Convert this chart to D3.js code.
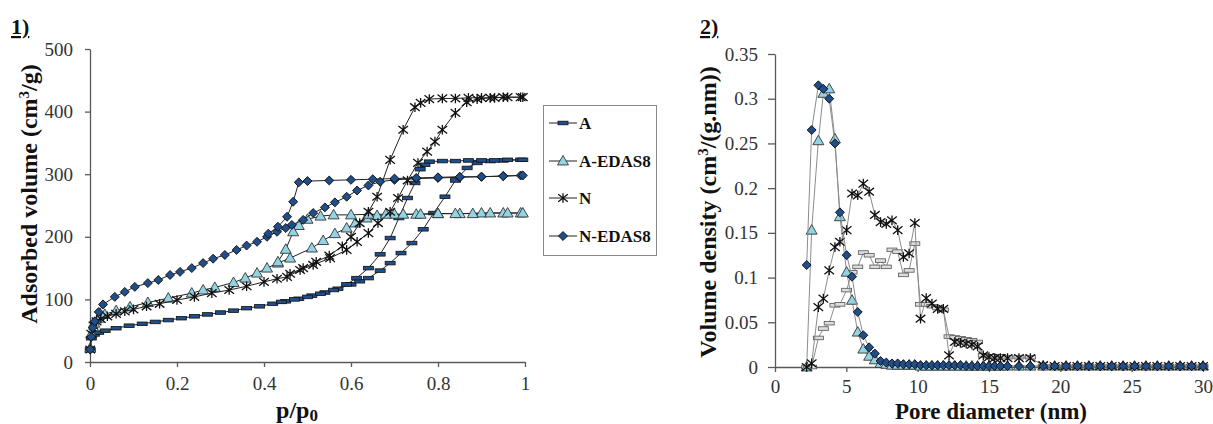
<!DOCTYPE html>
<html>
<head>
<meta charset="utf-8">
<script src="https://cdn.jsdelivr.net/npm/d3@7"></script>
<style>
  body { margin: 0; background: #fff; }
  svg { display: block; }
  svg text { font-family: "Liberation Serif", "Times New Roman", Times, serif !important; }
  .axis path, .axis line { stroke: #595959; stroke-width: 1.3; }
</style>
</head>
<body>
<svg width="1213" height="424"></svg>
<script>
// ---- data: nitrogen isotherms (p/p0, cm3/g) ----
var seriesNames = ["A", "A-EDAS8", "N", "N-EDAS8"];

var A_ads = [[0.0005,20],[0.003,38],[0.01,44],[0.02,47],[0.035,50],[0.06,54],[0.09,58],[0.12,61],[0.15,64],[0.18,67],[0.21,70],[0.24,73],[0.27,76],[0.3,79],[0.33,82],[0.36,86],[0.39,89],[0.42,93],[0.45,97],[0.48,101],[0.51,106],[0.54,111],[0.57,117],[0.6,124],[0.62,129],[0.64,134],[0.667,146],[0.69,158],[0.715,174],[0.74,190],[0.766,212],[0.79,238],[0.816,264],[0.84,290],[0.867,310],[0.89,318],[0.92,321],[0.95,322],[0.99,323]];
var A_des = [[0.995,323],[0.96,323],[0.93,322],[0.9,322],[0.87,322],[0.84,321],[0.81,321],[0.78,320],[0.77,315],[0.759,308],[0.747,286],[0.73,262],[0.71,230],[0.69,198],[0.667,172],[0.64,150],[0.613,134],[0.59,124],[0.56,115],[0.53,109],[0.5,104],[0.47,100],[0.44,96]];

var AE_ads = [[0.0005,22],[0.003,45],[0.01,62],[0.02,70],[0.034,76],[0.06,82],[0.092,88],[0.133,95],[0.18,102],[0.234,110],[0.26,115],[0.287,119],[0.33,127],[0.357,134],[0.384,142],[0.407,150],[0.432,158],[0.46,166],[0.51,182],[0.536,194],[0.563,205],[0.59,214],[0.61,222],[0.636,230],[0.66,234],[0.7,236],[0.75,236],[0.8,237],[0.85,237],[0.9,238],[0.95,238],[0.99,238]];
var AE_des = [[0.995,238],[0.96,238],[0.92,238],[0.88,237],[0.84,237],[0.8,237],[0.76,236],[0.72,236],[0.68,236],[0.64,236],[0.6,235],[0.56,235],[0.53,233],[0.5,228],[0.48,218],[0.467,208],[0.45,180],[0.432,160]];

var N_ads = [[0.0005,20],[0.003,45],[0.008,58],[0.015,65],[0.025,69],[0.04,73],[0.06,77],[0.08,81],[0.1,84],[0.13,89],[0.16,93],[0.2,99],[0.24,104],[0.28,110],[0.32,115],[0.36,121],[0.4,128],[0.43,133],[0.453,136],[0.483,147],[0.513,155],[0.552,166],[0.59,179],[0.614,192],[0.64,206],[0.662,222],[0.69,240],[0.708,262],[0.73,290],[0.754,318],[0.775,336],[0.793,352],[0.81,371],[0.84,398],[0.866,415],[0.89,420],[0.92,422],[0.95,423],[0.99,423]];
var N_des = [[0.995,423],[0.96,423],[0.93,422],[0.9,422],[0.87,422],[0.84,421],[0.81,421],[0.78,420],[0.76,414],[0.747,407],[0.72,371],[0.69,323],[0.66,264],[0.64,240],[0.62,222],[0.6,200],[0.58,185],[0.55,170],[0.52,160],[0.49,150],[0.46,141]];

var NE_ads = [[0.0005,20],[0.003,40],[0.006,55],[0.011,65],[0.02,80],[0.03,92],[0.057,104],[0.08,112],[0.103,120],[0.133,126],[0.157,131],[0.184,139],[0.207,144],[0.234,150],[0.26,158],[0.283,165],[0.31,171],[0.337,179],[0.36,186],[0.384,192],[0.407,200],[0.43,208],[0.45,214],[0.464,219],[0.49,227],[0.513,238],[0.54,247],[0.563,255],[0.59,264],[0.614,274],[0.64,282],[0.667,288],[0.7,291],[0.75,293],[0.8,294],[0.85,295],[0.9,296],[0.95,297],[0.99,298]];
var NE_des = [[0.995,298],[0.95,297],[0.9,296],[0.85,296],[0.8,295],[0.75,294],[0.7,293],[0.65,292],[0.6,291],[0.55,290],[0.5,289],[0.48,287],[0.467,256],[0.453,232],[0.432,216],[0.41,205]];

// ---- data: pore size distribution (nm, cm3/(g.nm)) ----
var poreD = [2.22,2.57,3.04,3.39,3.8,4.2,4.55,5.02,5.4,5.8,6.19,6.6,7.0,7.4,7.8,8.2,8.6,9.0,9.4,9.8,10.2,10.6,11.0,11.4,11.8,12.2,12.6,13.0,13.4,13.8,14.2,14.6,15.0,15.4,15.8,16.3,17.1,17.9,18.8,19.6,20.4,21.2,22.0,22.8,23.6,24.4,25.2,26.0,26.8,27.6,28.4,29.2,30.0];
var psd_A  = [0,0,0.0325,0.043,0.049,0.069,0.070,0.086,0.106,0.112,0.128,0.125,0.112,0.119,0.112,0.131,0.129,0.103,0.108,0.138,0.070,0.070,0.068,0.066,0.064,0.034,0.033,0.032,0.031,0.030,0.028,0.013,0.012,0.012,0.012,0.011,0.011,0.011,0.001,0.001,0.001,0.001,0.001,0.001,0.001,0.001,0.001,0.001,0.001,0.001,0.001,0.001,0.001];
var psd_AE = [0,0.153,0.253,0.306,0.311,0.255,0.168,0.106,0.0746,0.039,0.020,0.012,0.008,0.004,0.003,0.002,0.002,0.002,0.002,0.002,0.001,0.001,0.001,0.001,0.001,0.001,0.001,0.001,0.001,0.001,0.001,0.001,0.001,0.001,0.001,0.001,0.001,0.001,0.001,0.001,0.001,0.001,0.001,0.001,0.001,0.001,0.001,0.001,0.001,0.001,0.001,0.001,0.001];
var psd_N  = [0,0.004,0.067,0.0765,0.108,0.134,0.140,0.153,0.194,0.192,0.205,0.196,0.170,0.162,0.160,0.164,0.153,0.123,0.127,0.161,0.054,0.077,0.071,0.065,0.065,0.013,0.028,0.027,0.026,0.025,0.023,0.013,0.011,0.010,0.010,0.010,0.010,0.010,0.002,0.001,0.001,0.001,0.001,0.001,0.001,0.001,0.001,0.001,0.001,0.001,0.001,0.001,0.001];
var psd_NE = [0.114,0.265,0.315,0.311,0.300,0.250,0.173,0.125,0.101,0.0615,0.0355,0.022,0.015,0.0067,0.005,0.004,0.004,0.003,0.003,0.003,0.002,0.002,0.002,0.002,0.002,0.002,0.002,0.002,0.001,0.001,0.001,0.001,0.001,0.001,0.001,0.001,0.001,0.001,0.001,0.001,0.001,0.001,0.001,0.001,0.001,0.001,0.001,0.001,0.001,0.001,0.001,0.001,0.001];

var isoXTicks = [0, 0.2, 0.4, 0.6, 0.8, 1];
var isoYTicks = [0, 100, 200, 300, 400, 500];
var psdXTicks = [0, 5, 10, 15, 20, 25, 30];
var psdYTicks = [0, 0.05, 0.1, 0.15, 0.2, 0.25, 0.3, 0.35];

var svg = d3.select("svg");

var darkBlue = "#1f4e8a", lightBlue = "#93d4e4";

// marker drawing
function marker(g, kind, cx, cy, panel) {
  var m = g.append("g").attr("transform", "translate(" + cx + "," + cy + ")");
  if (kind == "A") {
    m.append("rect").attr("x", -5).attr("y", -1.8).attr("width", 10).attr("height", 3.6)
      .attr("fill", panel == 2 ? "#dcdcdc" : darkBlue)
      .attr("stroke", panel == 2 ? "#555" : "#111").attr("stroke-width", 0.8);
  } else if (kind == "A-EDAS8") {
    m.append("path").attr("d", d3.symbol(d3.symbolTriangle, 52)())
      .attr("transform", "translate(0,0.8)")
      .attr("fill", lightBlue).attr("stroke", "#333").attr("stroke-width", 0.9);
  } else if (kind == "N") {
    var r = 4.8;
    m.append("path")
      .attr("d", "M0," + (-r) + "L0," + r +
                 "M" + (-r) + "," + (-r * 0.8) + "L" + r + "," + (r * 0.8) +
                 "M" + (-r) + "," + (r * 0.8) + "L" + r + "," + (-r * 0.8))
      .attr("stroke", "#111").attr("stroke-width", 1.3).attr("fill", "none");
  } else {
    m.append("path").attr("d", d3.symbol(d3.symbolSquare, 40)())
      .attr("transform", "rotate(45)")
      .attr("fill", darkBlue).attr("stroke", "#111").attr("stroke-width", 0.9);
  }
}

function fmt(d) { return String(d); }

function styleAxis(g) {
  g.attr("font-size", 19);
  g.selectAll("text").attr("fill", "#333");
}

function title(x, y, rot, size) {
  return svg.append("text")
    .attr("transform", "translate(" + x + "," + y + ")" + (rot ? " rotate(-90)" : ""))
    .attr("text-anchor", "middle").attr("font-weight", "bold")
    .attr("font-size", size).attr("fill", "#111");
}

// ================= Panel 1: isotherms =================
var x1 = d3.scaleLinear().domain([0, 1]).range([90, 525]);
var y1 = d3.scaleLinear().domain([0, 500]).range([362, 49]);

svg.append("g").attr("class", "axis")
  .attr("transform", "translate(0," + y1(0) + ")")
  .call(d3.axisBottom(x1).tickValues(isoXTicks).tickFormat(fmt).tickSize(5).tickSizeOuter(0).tickPadding(10))
  .call(styleAxis);
svg.append("g").attr("class", "axis")
  .attr("transform", "translate(" + x1(0) + ",0)")
  .call(d3.axisLeft(y1).tickValues(isoYTicks).tickFormat(fmt).tickSize(5).tickSizeOuter(0).tickPadding(12))
  .call(styleAxis);

var isoSets = [
  {name: "A", branches: [A_ads, A_des]},
  {name: "A-EDAS8", branches: [AE_ads, AE_des]},
  {name: "N", branches: [N_ads, N_des]},
  {name: "N-EDAS8", branches: [NE_ads, NE_des]}
];

var line1 = d3.line().x(function(d) { return x1(d[0]); }).y(function(d) { return y1(d[1]); });
var p1 = svg.append("g");
isoSets.forEach(function(s) {
  var g = p1.append("g");
  s.branches.forEach(function(b) {
    g.append("path").attr("d", line1(b)).attr("fill", "none").attr("stroke", "#222").attr("stroke-width", 1);
  });
  s.branches.forEach(function(b) {
    b.forEach(function(d) { marker(g, s.name, x1(d[0]), y1(d[1]), 1); });
  });
});

var t1 = title(37, 194, true, 24).text("Adsorbed volume (cm");
t1.append("tspan").attr("baseline-shift", "super").attr("font-size", "15px").text("3");
t1.append("tspan").text("/g)");

var pt = title(297, 418, false, 24).text("p/p");
pt.append("tspan").attr("font-size", "17px").attr("dy", 3).text("0");

svg.append("text").attr("x", 11).attr("y", 34).attr("font-weight", "bold").attr("font-size", 22)
  .attr("text-decoration", "underline").attr("fill", "#111").text("1)");

// legend
var leg = svg.append("g");
leg.append("rect").attr("x", 543.5).attr("y", 105.5).attr("width", 113).attr("height", 150)
  .attr("fill", "#fff").attr("stroke", "#8a8a8a").attr("stroke-width", 1);
var legY = [123, 161, 198, 236];
seriesNames.forEach(function(n, i) {
  leg.append("line").attr("x1", 549).attr("x2", 577).attr("y1", legY[i]).attr("y2", legY[i])
    .attr("stroke", "#222").attr("stroke-width", 1);
  marker(leg, n, 563, legY[i], 1);
  leg.append("text").attr("x", 579).attr("y", legY[i] + 6).attr("font-weight", "bold")
    .attr("font-size", 17).attr("fill", "#111").text(n);
});

// ================= Panel 2: pore size distribution =================
var x2 = d3.scaleLinear().domain([0, 30]).range([775, 1203]);
var y2 = d3.scaleLinear().domain([0, 0.35]).range([367, 54]);

svg.append("g").attr("class", "axis")
  .attr("transform", "translate(0," + y2(0) + ")")
  .call(d3.axisBottom(x2).tickValues(psdXTicks).tickFormat(fmt).tickSize(5).tickSizeOuter(0).tickPadding(8))
  .call(styleAxis);
svg.append("g").attr("class", "axis")
  .attr("transform", "translate(" + x2(0) + ",0)")
  .call(d3.axisLeft(y2).tickValues(psdYTicks).tickFormat(fmt).tickSize(7).tickSizeOuter(0).tickPadding(10))
  .call(styleAxis);

var psdSets = [
  {name: "A", vals: psd_A},
  {name: "A-EDAS8", vals: psd_AE},
  {name: "N", vals: psd_N},
  {name: "N-EDAS8", vals: psd_NE}
];
var line2 = d3.line().x(function(d, i) { return x2(poreD[i]); }).y(function(d) { return y2(d); });
var p2 = svg.append("g");
psdSets.forEach(function(s) {
  var g = p2.append("g");
  g.append("path").attr("d", line2(s.vals)).attr("fill", "none").attr("stroke", "#8c8c8c").attr("stroke-width", 1);
  s.vals.forEach(function(v, i) { marker(g, s.name, x2(poreD[i]), y2(v), 2); });
});

var t2 = title(716, 212, true, 24).text("Volume density (cm");
t2.append("tspan").attr("baseline-shift", "super").attr("font-size", "15px").text("3");
t2.append("tspan").text("/(g.nm))");

title(991, 419, false, 23).text("Pore diameter (nm)");

svg.append("text").attr("x", 700).attr("y", 34).attr("font-weight", "bold").attr("font-size", 22)
  .attr("text-decoration", "underline").attr("fill", "#111").text("2)");
</script>
</body>
</html>
